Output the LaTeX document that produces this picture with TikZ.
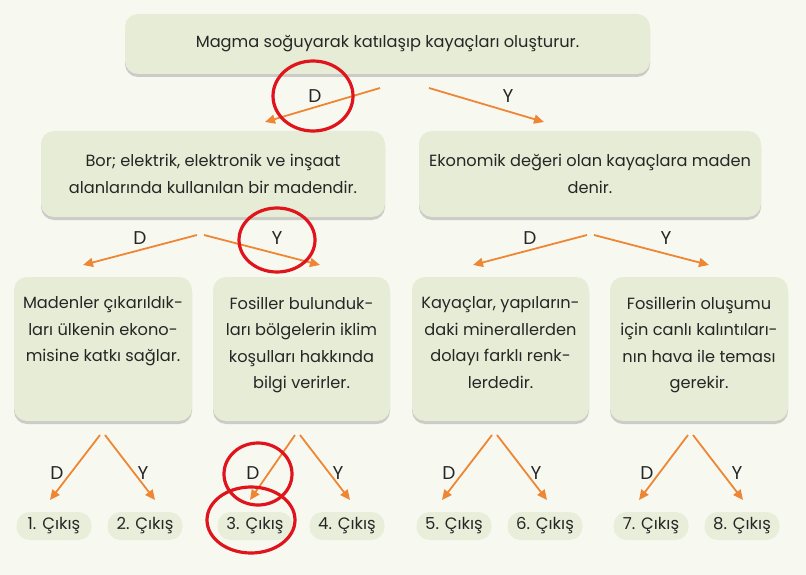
\documentclass[tikz,border=0pt]{standalone}
\usepackage{fontspec}
\setmainfont{Poppins}
\usetikzlibrary{arrows.meta,shadows}
\definecolor{bgc}{HTML}{F7F9F1}
\definecolor{boxc}{HTML}{E6ECD5}
\definecolor{pillc}{HTML}{E8EEDA}
\definecolor{arrc}{HTML}{EE8633}
\definecolor{redc}{HTML}{E0141C}
\definecolor{txtc}{HTML}{262626}
\tikzset{
  box/.style={fill=boxc, rounded corners=13pt, inner sep=0pt, align=center, text=txtc,
    drop shadow={opacity=0.3, shadow xshift=0pt, shadow yshift=-3pt, fill=black!60},
    font=\fontsize{16.2}{26.5}\selectfont},
  pill/.style={fill=pillc, rounded corners=13pt, inner sep=0pt, minimum width=75pt,
    minimum height=28pt, text=txtc, font=\fontsize{16.5}{18}\selectfont},
  lab/.style={text=txtc, font=\fontsize{18.5}{20}\selectfont, inner sep=0pt},
  arr/.style={draw=arrc, line width=1.8pt, -{Triangle[length=10pt,width=9pt]}},
  redcirc/.style={draw=redc, line width=3.2pt}
}
\newcommand{\lthree}[1]{\parbox[c][104pt][t]{176pt}{\centering #1}}
\begin{document}
\begin{tikzpicture}[x=1pt,y=-1pt]
\fill[bgc] (0,0) rectangle (806,575);
\useasboundingbox (0,0) rectangle (806,575);

% top
\node[box, minimum width=525pt, minimum height=60pt] (top) at (387.5,44) {Magma soğuyarak katılaşıp kayaçları oluşturur.};

% level 2
\node[box, minimum width=344pt, minimum height=86pt] (l2a) at (213,174) {Bor; elektrik, elektronik ve inşaat\\alanlarında kullanılan bir madendir.};
\node[box, minimum width=342pt, minimum height=86pt] (l2b) at (590,174) {Ekonomik değeri olan kayaçlara maden\\denir.};

% level 3
\node[box, minimum width=178pt, minimum height=144pt] (b1) at (103,349) {\lthree{Madenler çıkarıldık-\\ları ülkenin ekono-\\misine katkı sağlar.}};
\node[box, minimum width=177pt, minimum height=144pt] (b2) at (301.5,349) {\lthree{Fosiller bulunduk-\\ları bölgelerin iklim\\koşulları hakkında\\bilgi verirler.}};
\node[box, minimum width=177pt, minimum height=144pt] (b3) at (500.5,349) {\lthree{Kayaçlar, yapıların-\\daki minerallerden\\dolayı farklı renk-\\lerdedir.}};
\node[box, minimum width=178pt, minimum height=144pt] (b4) at (699,349) {\lthree{Fosillerin oluşumu\\için canlı kalıntıları-\\nın hava ile teması\\gerekir.}};

% exits
\node[pill] (e1) at (54,526) {1. Çıkış};
\node[pill] (e2) at (145,526) {2. Çıkış};
\node[pill] (e3) at (255,526) {3. Çıkış};
\node[pill] (e4) at (347,526) {4. Çıkış};
\node[pill] (e5) at (454,526) {5. Çıkış};
\node[pill] (e6) at (545,526) {6. Çıkış};
\node[pill] (e7) at (651,526) {7. Çıkış};
\node[pill] (e8) at (742,526) {8. Çıkış};

% arrow coordinates
\coordinate (t0D) at (380,88);  \coordinate (t1D) at (265,122);
\coordinate (t0Y) at (429,88);  \coordinate (t1Y) at (544,122);
\coordinate (a0D) at (197,235); \coordinate (a1D) at (83,265);
\coordinate (a0Y) at (204,235); \coordinate (a1Y) at (320,265);
\coordinate (c0D) at (587,235); \coordinate (c1D) at (473,265);
\coordinate (c0Y) at (594,235); \coordinate (c1Y) at (709,265);
\coordinate (p1s) at (100,435); \coordinate (p1d) at (50,500);
\coordinate (p1t) at (105,435); \coordinate (p1y) at (155,500);
\coordinate (p2s) at (295,435); \coordinate (p2d) at (250,500);
\coordinate (p2t) at (300,435); \coordinate (p2y) at (350,500);
\coordinate (p3s) at (492,435); \coordinate (p3d) at (442,500);
\coordinate (p3t) at (497,435); \coordinate (p3y) at (547,500);
\coordinate (p4s) at (688,435); \coordinate (p4d) at (639,500);
\coordinate (p4t) at (693,435); \coordinate (p4y) at (743,500);

\draw[arr] (t0D) -- (t1D);
\draw[arr] (t0Y) -- (t1Y);
\draw[arr] (a0D) -- (a1D);
\draw[arr] (a0Y) -- (a1Y);
\draw[arr] (c0D) -- (c1D);
\draw[arr] (c0Y) -- (c1Y);
\draw[arr] (p1s) -- (p1d);
\draw[arr] (p1t) -- (p1y);
\draw[arr] (p2s) -- (p2d);
\draw[arr] (p2t) -- (p2y);
\draw[arr] (p3s) -- (p3d);
\draw[arr] (p3t) -- (p3y);
\draw[arr] (p4s) -- (p4d);
\draw[arr] (p4t) -- (p4y);

% labels
\node[lab] (lt1) at (315,96) {D};
\node[lab] (lt2) at (508,96) {Y};
\node[lab] (la1) at (140,238) {D};
\node[lab] (la2) at (277,238) {Y};
\node[lab] (lc1) at (530,238) {D};
\node[lab] (lc2) at (666,238) {Y};
\node[lab] (lp1) at (57,473) {D};
\node[lab] (lp2) at (143,473) {Y};
\node[lab] (lp3) at (253,473) {D};
\node[lab] (lp4) at (338,473) {Y};
\node[lab] (lp5) at (449,473) {D};
\node[lab] (lp6) at (536,473) {Y};
\node[lab] (lp7) at (647,473) {D};
\node[lab] (lp8) at (737,473) {Y};

% red annotation circles
\draw[redcirc] (313,96) ellipse [x radius=40pt, y radius=35pt];
\draw[redcirc] (277,240) ellipse [x radius=38pt, y radius=32pt];
\draw[redcirc] (258,474) ellipse [x radius=34pt, y radius=31pt];
\draw[redcirc] (251,520) ellipse [x radius=44pt, y radius=33pt];
\end{tikzpicture}
\end{document}
